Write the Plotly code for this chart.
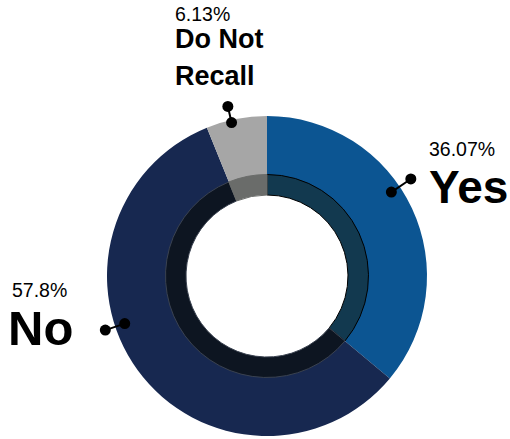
import math
import plotly.graph_objects as go

# ---- data ----
labels = ["Yes", "No", "Do Not Recall"]
values = [36.07, 57.8, 6.13]
pct_text = ["36.07%", "57.8%", "6.13%"]

# ---- style ----
W, H = 510, 439
CX, CY = 267, 276          # pie center in pixels (from top-left)
R_OUT, R_MID, R_IN = 160, 101.5, 81
outer_colors = ["#0c5592", "#172850", "#a6a6a6"]
inner_colors = ["#12394f", "#0d1521", "#6a6c6a"]
inner_line = ["#000000", "#3a4250", "#6a6c6a"]

def px(x):
    return x / W

def py(y):
    return 1 - y / H

fig = go.Figure()

fig.add_trace(go.Pie(
    labels=labels, values=values, sort=False, direction="clockwise", rotation=0,
    hole=0.6, marker=dict(colors=outer_colors, line=dict(width=0)),
    textinfo="none", hoverinfo="label+percent", showlegend=False,
    domain=dict(x=[px(CX - R_OUT), px(CX + R_OUT)], y=[py(CY + R_OUT), py(CY - R_OUT)]),
))
fig.add_trace(go.Pie(
    labels=labels, values=values, sort=False, direction="clockwise", rotation=0,
    hole=R_IN / R_MID, marker=dict(colors=inner_colors, line=dict(width=1, color=inner_line)),
    textinfo="none", hoverinfo="skip", showlegend=False,
    domain=dict(x=[px(CX - R_MID), px(CX + R_MID)], y=[py(CY + R_MID), py(CY - R_MID)]),
))

# leader lines (angle clockwise from 12 o'clock, radii in px)
leader_angle = [56, 251.5, 347]
leader_r = [(150, 173.5), (150, 170.5), (157.5, 174)]

def polar(angle, r):
    a = math.radians(angle)
    return CX + r * math.sin(a), CY - r * math.cos(a)

shapes = []
DOT = 5.5
for ang, (r0, r1) in zip(leader_angle, leader_r):
    x0, y0 = polar(ang, r0)
    x1, y1 = polar(ang, r1)
    shapes.append(dict(type="line", xref="paper", yref="paper", layer="above",
                       x0=px(x0), y0=py(y0), x1=px(x1), y1=py(y1),
                       line=dict(color="black", width=2)))
    for (xx, yy) in [(x0, y0), (x1, y1)]:
        shapes.append(dict(type="circle", xref="paper", yref="paper", layer="above",
                           x0=px(xx - DOT), x1=px(xx + DOT), y0=py(yy + DOT), y1=py(yy - DOT),
                           fillcolor="black", line=dict(width=0)))

FONT = "Liberation Sans"

def ann(text, x, y, size, weight):
    return dict(text=text, x=px(x), y=py(y),
                xref="paper", yref="paper", xanchor="left", yanchor="middle",
                showarrow=False,
                font=dict(family=FONT, size=size, color="#000000", weight=weight))

annotations = [
    ann(pct_text[0], 427, 149.5, 19.5, 400),
    ann(labels[0], 427, 187, 46, 700),
    ann(pct_text[1], 10, 289.5, 19.5, 400),
    ann(labels[1], 6, 327.5, 49, 700),
    ann(pct_text[2], 173, 14, 19.5, 400),
    ann("Do Not", 173, 39.5, 27, 700),
    ann("Recall", 173, 75.5, 27, 700),
]

fig.update_layout(
    width=W, height=H, margin=dict(l=0, r=0, t=0, b=0),
    paper_bgcolor="white", plot_bgcolor="white",
    shapes=shapes, annotations=annotations, showlegend=False,
)

fig.write_html("out.html", config={"displayModeBar": False},
               post_script="document.body.style.margin='0';document.body.style.overflow='hidden';")
